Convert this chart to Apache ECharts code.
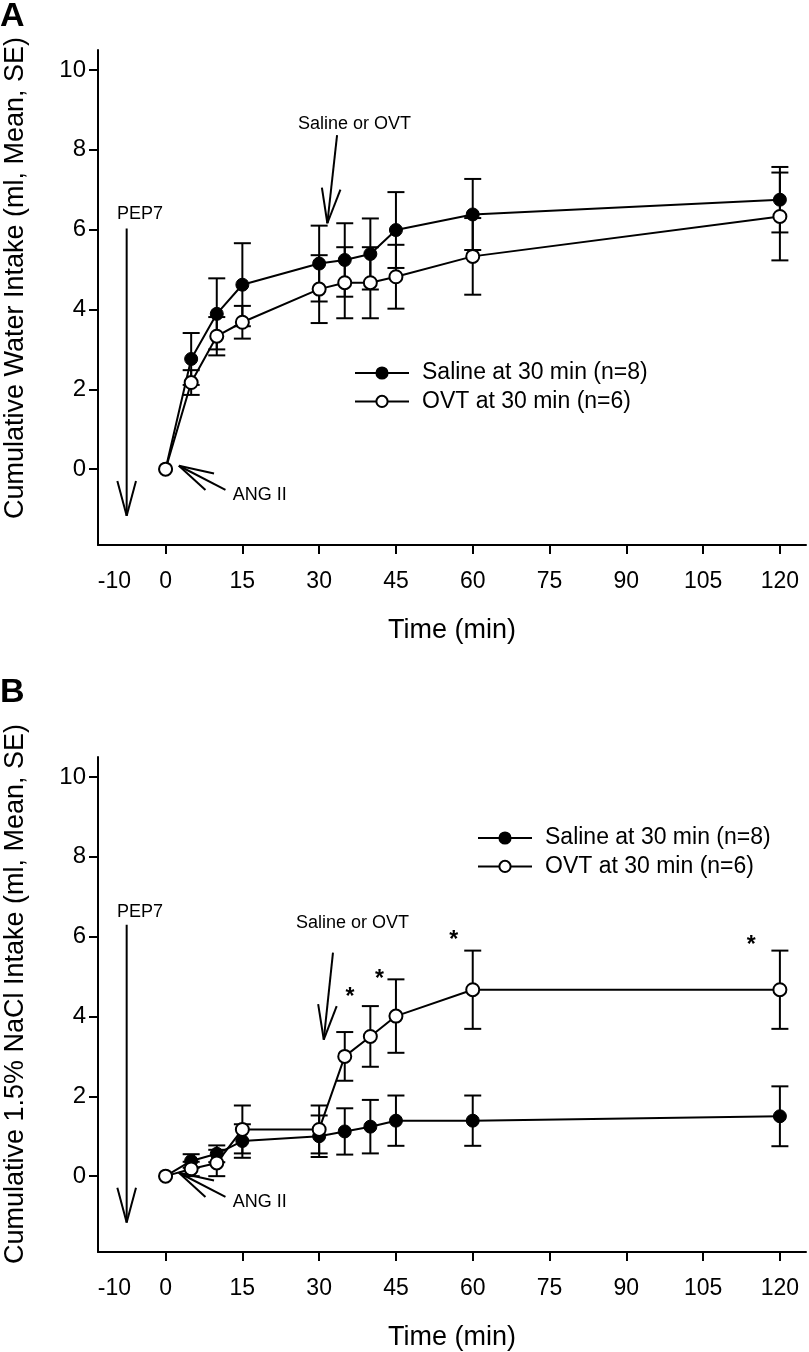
<!DOCTYPE html>
<html><head><meta charset="utf-8">
<script src="https://cdn.jsdelivr.net/npm/echarts@6/dist/echarts.min.js"></script>
<style>html,body{margin:0;padding:0;background:#fff}#c{width:809px;height:1352px}</style>
</head><body><div id="c"></div>
<script>
// ---------- data ----------
const time = [0, 5, 10, 15, 30, 35, 40, 45, 60, 120];
const xTickLabels = [-10, 0, 15, 30, 45, 60, 75, 90, 105, 120];
const xTickValues = [0, 15, 30, 45, 60, 75, 90, 105, 120];
const yTickValues = [0, 2, 4, 6, 8, 10];
const seriesNames = ['Saline at 30 min (n=8)', 'OVT at 30 min (n=6)'];

// Panel A: cumulative water intake
const waterSaline   = [0, 2.76, 3.89, 4.62, 5.15, 5.24, 5.39, 5.99, 6.38, 6.75];
const waterSalineSE = [0, 0.65, 0.89, 1.04, 0.95, 0.92, 0.89, 0.95, 0.89, 0.82];
const waterOVT      = [0, 2.17, 3.33, 3.68, 4.51, 4.67, 4.67, 4.82, 5.33, 6.33];
const waterOVTSE    = [0, 0.31, 0.48, 0.41, 0.85, 0.89, 0.89, 0.80, 0.96, 1.10];

// Panel B: cumulative 1.5% NaCl intake
const naclSaline   = [0, 0.38, 0.56, 0.88, 1.00, 1.12, 1.24, 1.39, 1.39, 1.50];
const naclSalineSE = [0, 0.17, 0.21, 0.42, 0.52, 0.58, 0.67, 0.63, 0.63, 0.75];
const naclOVT      = [0, 0.18, 0.33, 1.17, 1.17, 3.00, 3.50, 4.01, 4.67, 4.67];
const naclOVTSE    = [0, 0.18, 0.33, 0.60, 0.60, 0.61, 0.76, 0.92, 0.98, 0.98];

// significance markers (panel B, OVT vs saline)
const starTimes = [35, 40, 60, 120];

// ---------- build ----------
const FONT = "'Liberation Sans', Arial, sans-serif";
const BLACK = '#000';
const chart = echarts.init(document.getElementById('c'), null, {renderer: 'canvas'});

const grids = [
  {left: 98, right: 3, top: 50, height: 495},
  {left: 98, right: 3, top: 757, height: 495}
];

function xAxisCfg(gi) {
  return {
    type: 'value', gridIndex: gi, min: -13.2, max: 125.1,
    axisLine: {onZero: false, lineStyle: {color: BLACK, width: 2}},
    axisTick: {show: true, customValues: xTickValues, length: 9, lineStyle: {color: BLACK, width: 2}},
    axisLabel: {customValues: xTickLabels, color: BLACK, fontSize: 23, fontFamily: FONT, margin: 25},
    splitLine: {show: false},
    name: 'Time (min)', nameLocation: 'middle', nameGap: 72,
    nameTextStyle: {color: BLACK, fontSize: 27, fontFamily: FONT}
  };
}
function yAxisCfg(gi) {
  return {
    type: 'value', gridIndex: gi, min: -1.9, max: 10.5,
    axisLine: {show: true, onZero: false, lineStyle: {color: BLACK, width: 2}},
    axisTick: {show: true, customValues: yTickValues, length: 9, lineStyle: {color: BLACK, width: 2}},
    axisLabel: {customValues: yTickValues, color: BLACK, fontSize: 24, fontFamily: FONT, margin: 12},
    splitLine: {show: false}
  };
}

function errSeries(gi, means, ses, z) {
  return {
    type: 'custom', xAxisIndex: gi, yAxisIndex: gi, z: z, silent: true,
    data: time.map((t, i) => [t, means[i], ses[i]]),
    renderItem: function (params, api) {
      const t = api.value(0), m = api.value(1), s = api.value(2);
      if (!s) return;
      const top = api.coord([t, m + s]);
      const bot = api.coord([t, m - s]);
      const hw = 8.5;
      const st = {stroke: BLACK, lineWidth: 2};
      return {type: 'group', children: [
        {type: 'line', shape: {x1: top[0], y1: top[1], x2: bot[0], y2: bot[1]}, style: st},
        {type: 'line', shape: {x1: top[0] - hw, y1: top[1], x2: top[0] + hw, y2: top[1]}, style: st},
        {type: 'line', shape: {x1: bot[0] - hw, y1: bot[1], x2: bot[0] + hw, y2: bot[1]}, style: st}
      ]};
    }
  };
}
function lineSeries(gi, name, means, filled) {
  return {
    type: 'line', name: name, xAxisIndex: gi, yAxisIndex: gi, z: 5,
    data: time.map((t, i) => [t, means[i]]),
    symbol: 'circle', symbolSize: 13, showAllSymbol: true,
    lineStyle: {color: BLACK, width: 2},
    itemStyle: filled ? {color: BLACK, borderColor: BLACK, borderWidth: 1}
                      : {color: '#fff', borderColor: BLACK, borderWidth: 2},
    emphasis: {disabled: true},
    animation: false
  };
}

// annotation helper: arrows & texts drawn in data coordinates
function annotSeries(gi, items) {
  return {
    type: 'custom', xAxisIndex: gi, yAxisIndex: gi, z: 6, silent: true,
    data: items.map((it, i) => [i]),
    renderItem: function (params, api) {
      const it = items[params.dataIndex];
      if (it.kind === 'text') {
        const p = api.coord(it.at);
        return {type: 'text', x: p[0], y: p[1], style: {
          text: it.text, fill: BLACK, font: it.font, align: 'center', verticalAlign: 'middle'}};
      }
      const tip = api.coord(it.tip), tail = api.coord(it.tail);
      const ang = Math.atan2(tail[1] - tip[1], tail[0] - tip[0]);
      const L = it.head || 36, a = 15 * Math.PI / 180;
      const st = {stroke: BLACK, lineWidth: 2};
      return {type: 'group', children: [
        {type: 'line', shape: {x1: tail[0], y1: tail[1], x2: tip[0], y2: tip[1]}, style: st},
        {type: 'line', shape: {x1: tip[0], y1: tip[1], x2: tip[0] + L * Math.cos(ang + a), y2: tip[1] + L * Math.sin(ang + a)}, style: st},
        {type: 'line', shape: {x1: tip[0], y1: tip[1], x2: tip[0] + L * Math.cos(ang - a), y2: tip[1] + L * Math.sin(ang - a)}, style: st}
      ]};
    }
  };
}
const annFont = "18px " + FONT;
const annA = [
  {kind: 'text', text: 'PEP7', at: [-5.0, 6.39], font: annFont},
  {kind: 'arrow', tail: [-7.6, 6.03], tip: [-7.6, -1.17]},
  {kind: 'text', text: 'ANG II', at: [18.4, -0.64], font: annFont},
  {kind: 'arrow', tail: [11.7, -0.52], tip: [2.6, 0.085]},
  {kind: 'text', text: 'Saline or OVT', at: [36.9, 8.64], font: annFont},
  {kind: 'arrow', tail: [33.5, 8.37], tip: [31.6, 6.16]}
];
const annB = [
  {kind: 'text', text: 'PEP7', at: [-5.0, 6.62], font: annFont},
  {kind: 'arrow', tail: [-7.6, 6.30], tip: [-7.6, -1.16]},
  {kind: 'text', text: 'ANG II', at: [18.4, -0.66], font: annFont},
  {kind: 'arrow', tail: [11.7, -0.52], tip: [2.6, 0.085]},
  {kind: 'text', text: 'Saline or OVT', at: [36.5, 6.35], font: annFont},
  {kind: 'arrow', tail: [32.7, 5.60], tip: [30.9, 3.42]}
];
// stars placed above OVT error bars
const starOffsets = {35: [1.0, 0.85], 40: [1.8, 0.65], 60: [-3.7, 0.25], 120: [-5.6, 0.12]};
starTimes.forEach(t => {
  const i = time.indexOf(t);
  const o = starOffsets[t];
  annB.push({kind: 'text', text: '*', at: [t + o[0], naclOVT[i] + naclOVTSE[i] + o[1]], font: 'bold 23px ' + FONT});
});

function legendCfg(left, top) {
  return {
    orient: 'vertical', left: left, top: top, padding: 0, data: seriesNames,
    itemWidth: 54, itemHeight: 14, itemGap: 4.4, selectedMode: false,
    textStyle: {color: BLACK, fontSize: 23, fontFamily: FONT, lineHeight: 24, padding: [0, 0, 0, 8]}
  };
}

const option = {
  animation: false,
  backgroundColor: '#fff',
  grid: grids,
  xAxis: [xAxisCfg(0), xAxisCfg(1)],
  yAxis: [yAxisCfg(0), yAxisCfg(1)],
  legend: [legendCfg(354, 361), legendCfg(477, 826)],
  series: [
    errSeries(0, waterSaline, waterSalineSE, 3),
    errSeries(0, waterOVT, waterOVTSE, 3),
    lineSeries(0, seriesNames[0], waterSaline, true),
    lineSeries(0, seriesNames[1], waterOVT, false),
    annotSeries(0, annA),
    errSeries(1, naclSaline, naclSalineSE, 3),
    errSeries(1, naclOVT, naclOVTSE, 3),
    lineSeries(1, seriesNames[0], naclSaline, true),
    lineSeries(1, seriesNames[1], naclOVT, false),
    annotSeries(1, annB)
  ],
  graphic: [
    {type: 'text', left: 0, top: 0, style: {text: 'A', font: 'bold 34px ' + FONT, fill: BLACK}},
    {type: 'text', left: 0, top: 676, style: {text: 'B', font: 'bold 34px ' + FONT, fill: BLACK}},
    {type: 'text', x: 16, y: 278, rotation: Math.PI / 2,
     style: {text: 'Cumulative Water Intake (ml, Mean, SE)', font: '27px ' + FONT, fill: BLACK, align: 'center', verticalAlign: 'middle'}},
    {type: 'text', x: 16, y: 994, rotation: Math.PI / 2,
     style: {text: 'Cumulative 1.5% NaCl Intake (ml, Mean, SE)', font: '27px ' + FONT, fill: BLACK, align: 'center', verticalAlign: 'middle'}}
  ]
};
chart.setOption(option);
</script>
</body></html>
